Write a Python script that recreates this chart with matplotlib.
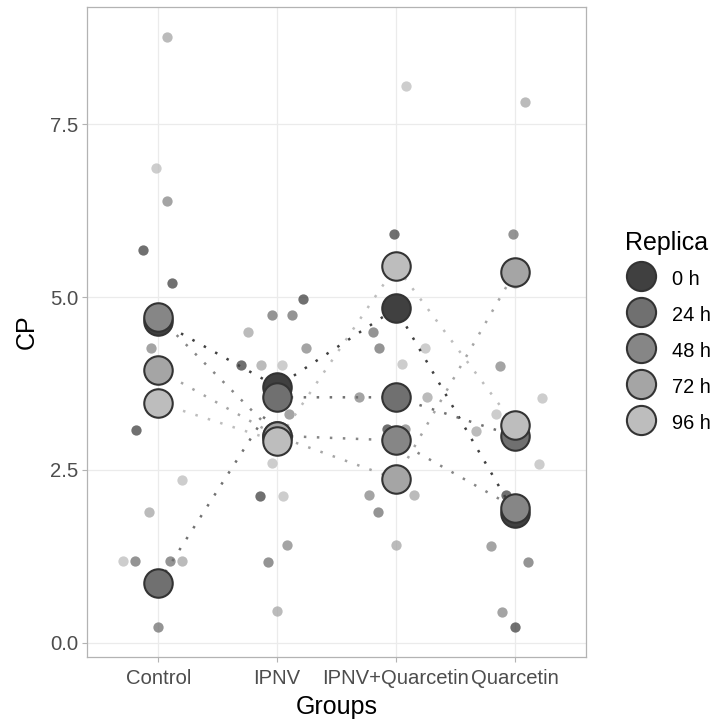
import numpy as np
import matplotlib
matplotlib.use("Agg")
import matplotlib.pyplot as plt
from matplotlib.lines import Line2D

groups = ["Control", "IPNV", "IPNV+Quarcetin", "Quarcetin"]
replicas = ["0 h", "24 h", "48 h", "72 h", "96 h"]

# CP readings, three per replica in the order 0 h, 24 h, 48 h, 72 h, 96 h
control_cp = [5.68, 5.21, 3.08, 1.18, 1.18, 0.23, 6.39, 4.26, 3.50,
              8.77, 1.89, 1.18, 6.87, 2.36, 1.18]
ipnv_cp = [4.97, 4.02, 2.12, 4.74, 4.74, 1.17, 4.26, 3.31, 1.41,
           4.49, 4.02, 0.46, 4.02, 2.60, 2.12]
ipnvq_cp = [5.92, 5.50, 3.09, 4.50, 4.26, 1.89, 3.56, 3.09, 2.13,
            3.56, 2.13, 1.42, 8.05, 4.26, 4.03]
quarc_cp = [0.22, 2.13, 3.26, 5.91, 1.16, 1.90, 4.01, 1.40, 0.45,
            7.82, 3.06, 5.20, 3.54, 3.31, 2.59]

# horizontal jitter of each reading, as it falls in the reference
control_jit = [-0.125, 0.117, -0.187, -0.195, 0.098, 0.0, 0.075, -0.064, 0.0,
               0.07, -0.081, 0.198, -0.017, 0.198, -0.296]
ipnv_jit = [0.218, -0.308, -0.146, -0.042, 0.126, -0.076, 0.246, 0.098, 0.081,
            -0.241, -0.134, 0.0, 0.042, -0.039, 0.048]
ipnvq_jit = [-0.017, 0.0, -0.078, -0.196, -0.146, -0.154, -0.308, 0.076, -0.224,
             0.263, 0.151, 0.0, 0.087, 0.244, 0.048]
quarc_jit = [0.0, -0.07, 0.0, -0.014, 0.115, 0.0, -0.126, -0.196, -0.106,
             0.084, -0.328, 0.0, 0.227, -0.154, 0.202]

colors = ["#404040", "#707070", "#868686", "#a5a5a5", "#bdbdbd"]

plt.rcParams['font.family'] = ['Liberation Sans', 'DejaVu Sans']

cp_by_group = [np.array(v) for v in (control_cp, ipnv_cp, ipnvq_cp, quarc_cp)]
jit_by_group = [np.array(v) for v in (control_jit, ipnv_jit, ipnvq_jit, quarc_jit)]
rep_idx = np.repeat(np.arange(len(replicas)), 3)
xs = np.arange(1, len(groups) + 1)

fig = plt.figure(figsize=(7.17, 7.2), dpi=100)
ax = fig.add_axes([87 / 717, 63 / 720, 499 / 717, 650 / 720])

# raw readings
for gi in range(len(groups)):
    cp, jit = cp_by_group[gi], jit_by_group[gi]
    for r in range(len(replicas)):
        m = rep_idx == r
        ax.scatter(xs[gi] + jit[m], cp[m], s=55, color=colors[r], alpha=0.75,
                   linewidths=0, zorder=2)

# replica means per group
means = np.array([[cp[rep_idx == r].mean() for cp in cp_by_group]
                  for r in range(len(replicas))])
for r in range(len(replicas)):
    ax.plot(xs, means[r], linestyle=(0, (1, 4.2)), lw=1.8, color=colors[r],
            zorder=3)
for r in range(len(replicas)):
    ax.scatter(xs, means[r], s=420, color=colors[r], edgecolors="#333333",
               linewidths=1.5, zorder=4)

allv = np.concatenate(cp_by_group)
rng = allv.max() - allv.min()
ax.set_ylim(allv.min() - 0.05 * rng, allv.max() + 0.05 * rng)
ax.set_xlim(0.4, len(groups) + 0.6)

ax.set_xticks(xs)
ax.set_xticklabels(groups)
ax.set_yticks([0, 2.5, 5, 7.5])
ax.set_yticklabels(["0.0", "2.5", "5.0", "7.5"])
ax.tick_params(labelsize=14.6, labelcolor="#4d4d4d", color="#b3b3b3",
               length=3.5, width=0.8, pad=3)
ax.tick_params(axis="x", pad=5)
ax.grid(color="#ebebeb", lw=0.9)
ax.set_axisbelow(True)
for s in ax.spines.values():
    s.set_color("#b3b3b3")
    s.set_linewidth(0.9)

ax.set_xlabel("Groups", fontsize=18, labelpad=5)
ax.set_ylabel("CP", fontsize=18, labelpad=8)

handles = [Line2D([], [], marker="o", linestyle="none", markersize=21,
                  markerfacecolor=c, markeredgecolor="#333333",
                  markeredgewidth=1.5) for c in colors]
leg = ax.legend(handles, replicas, title="Replica", loc="center left",
                bbox_to_anchor=(625 / 717, 1 - 333 / 720),
                bbox_transform=fig.transFigure, frameon=False, fontsize=14.4,
                title_fontsize=18, borderpad=0, handlelength=1.6,
                handleheight=1.5, labelspacing=0.58, handletextpad=0.75,
                alignment="left", borderaxespad=0)

fig.savefig("out.png", dpi=100)
